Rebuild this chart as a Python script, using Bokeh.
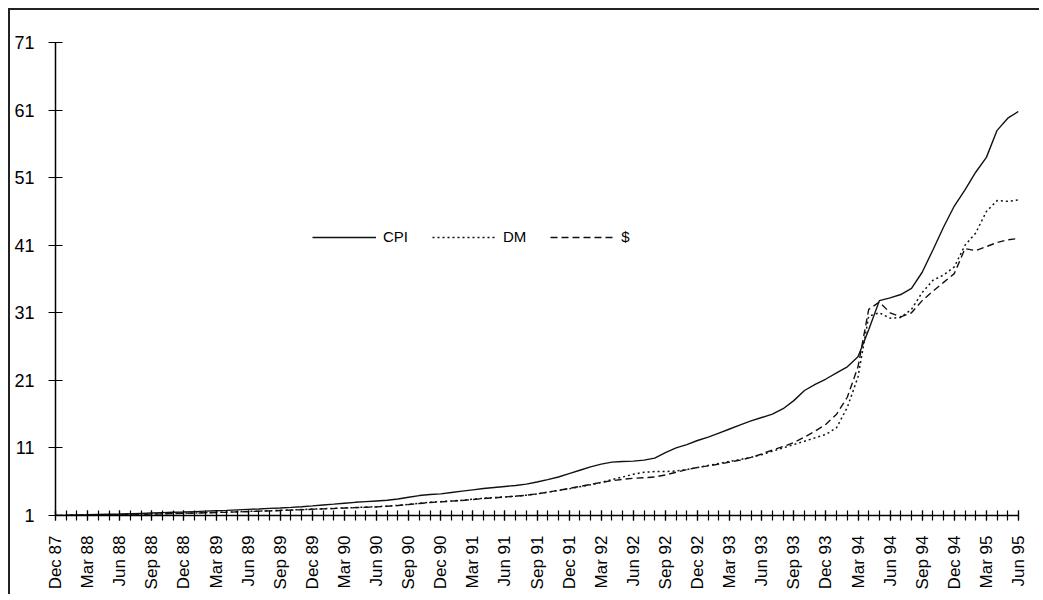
import math
from bokeh.plotting import figure
from bokeh.models import FixedTicker, Legend, LegendItem
from bokeh.embed import file_html
from bokeh.resources import INLINE

# ---------------- data (monthly, Dec 87 .. Jun 95) ----------------
tick_labels = ["Dec 87", "Mar 88", "Jun 88", "Sep 88", "Dec 88", "Mar 89", "Jun 89", "Sep 89",
               "Dec 89", "Mar 90", "Jun 90", "Sep 90", "Dec 90", "Mar 91", "Jun 91", "Sep 91",
               "Dec 91", "Mar 92", "Jun 92", "Sep 92", "Dec 92", "Mar 93", "Jun 93", "Sep 93",
               "Dec 93", "Mar 94", "Jun 94", "Sep 94", "Dec 94", "Mar 95", "Jun 95"]

cpi = [1.00, 1.03, 1.07, 1.10, 1.14, 1.18, 1.22, 1.27, 1.32, 1.37,
       1.42, 1.47, 1.52, 1.58, 1.64, 1.70, 1.76, 1.83, 1.90, 1.97,
       2.05, 2.12, 2.20, 2.30, 2.42, 2.55, 2.68, 2.82, 2.95, 3.05,
       3.15, 3.25, 3.45, 3.70, 3.95, 4.10, 4.20, 4.40, 4.60, 4.80,
       5.00, 5.15, 5.30, 5.45, 5.65, 5.95, 6.30, 6.70, 7.20, 7.70,
       8.20, 8.60, 8.90, 9.00, 9.05, 9.20, 9.50, 10.3, 11.0, 11.5,
       12.1, 12.6, 13.2, 13.8, 14.4, 15.0, 15.5, 16.0, 16.8, 18.0,
       19.5, 20.4, 21.2, 22.1, 23.0, 24.5, 28.5, 32.8, 33.2, 33.7,
       34.6, 37.0, 40.3, 43.7, 46.8, 49.2, 51.8, 54.0, 58.0, 59.8,
       60.8]

dm = [1.00, 1.02, 1.04, 1.06, 1.08, 1.10, 1.12, 1.15, 1.18, 1.22,
      1.26, 1.30, 1.34, 1.38, 1.42, 1.46, 1.50, 1.55, 1.60, 1.65,
      1.70, 1.76, 1.82, 1.88, 1.95, 2.00, 2.05, 2.12, 2.18, 2.24,
      2.30, 2.40, 2.50, 2.65, 2.80, 2.95, 3.05, 3.15, 3.25, 3.40,
      3.55, 3.65, 3.75, 3.85, 4.00, 4.20, 4.45, 4.70, 4.95, 5.25,
      5.55, 5.90, 6.30, 6.70, 7.10, 7.40, 7.50, 7.50, 7.60, 7.80,
      8.10, 8.40, 8.70, 9.00, 9.30, 9.60, 10.0, 10.5, 11.0, 11.5,
      12.0, 12.5, 13.0, 14.0, 17.0, 21.5, 30.5, 31.0, 30.2, 30.3,
      31.5, 34.0, 35.8, 36.6, 37.8, 41.0, 42.8, 46.0, 47.6, 47.5,
      47.7]

usd = [1.00, 1.02, 1.04, 1.05, 1.07, 1.09, 1.11, 1.14, 1.17, 1.20,
       1.24, 1.28, 1.32, 1.36, 1.40, 1.44, 1.48, 1.53, 1.58, 1.63,
       1.68, 1.74, 1.80, 1.86, 1.92, 1.98, 2.03, 2.10, 2.16, 2.22,
       2.28, 2.36, 2.48, 2.62, 2.78, 2.92, 3.02, 3.12, 3.22, 3.36,
       3.50, 3.62, 3.74, 3.86, 4.00, 4.20, 4.45, 4.72, 5.00, 5.30,
       5.60, 5.90, 6.15, 6.35, 6.50, 6.60, 6.70, 7.00, 7.40, 7.80,
       8.10, 8.35, 8.60, 8.90, 9.20, 9.60, 10.1, 10.7, 11.2, 11.8,
       12.6, 13.5, 14.5, 16.0, 18.5, 23.0, 31.5, 32.6, 31.0, 30.4,
       31.0, 32.8, 34.2, 35.5, 36.8, 40.5, 40.2, 40.8, 41.4, 41.8,
       42.0]

y_ticks = [1, 11, 21, 31, 41, 51, 61, 71]

months = list(range(len(cpi)))
label_pos = list(range(0, len(cpi), 3))

FONT = "Liberation Sans"

p = figure(width=1031, height=586, output_backend="svg", toolbar_location=None,
           x_range=(0, 90), y_range=(1, 71),
           min_border_left=45, min_border_right=23, min_border_top=32, min_border_bottom=81)
p.styles = {"margin-top": "8px", "margin-left": "8px",
            "border-top": "2px solid #222", "border-left": "2px solid #222"}
p.outline_line_color = None
p.grid.visible = False
p.background_fill_color = "white"
p.border_fill_color = "white"

r_cpi = p.line(months, cpi, line_color="#111111", line_width=1.4)
r_dm = p.line(months, dm, line_color="#111111", line_width=1.5, line_dash="2 3")
r_usd = p.line(months, usd, line_color="#111111", line_width=1.4, line_dash="7 4")

# x axis
xa = p.xaxis[0]
xa.ticker = FixedTicker(ticks=label_pos, minor_ticks=months)
xa.major_label_overrides = {pos: lab for pos, lab in zip(label_pos, tick_labels)}
xa.major_label_orientation = math.pi / 2
xa.major_label_text_font = FONT
xa.major_label_text_font_size = "17px"
xa.major_label_text_color = "black"
xa.major_label_standoff = 15
xa.axis_line_color = "black"
xa.axis_line_width = 1.5
xa.major_tick_in = 5
xa.major_tick_out = 5
xa.minor_tick_in = 5
xa.minor_tick_out = 5
xa.major_tick_line_color = "black"
xa.minor_tick_line_color = "black"
xa.major_tick_line_width = 1.2
xa.minor_tick_line_width = 1.2

# y axis
ya = p.yaxis[0]
ya.ticker = FixedTicker(ticks=y_ticks, minor_ticks=[])
ya.major_label_text_font = FONT
ya.major_label_text_font_size = "18px"
ya.major_label_text_color = "black"
ya.major_label_standoff = 14
ya.axis_line_color = "black"
ya.axis_line_width = 1.5
ya.major_tick_in = 7
ya.major_tick_out = 7
ya.major_tick_line_color = "black"
ya.major_tick_line_width = 1.2

legend = Legend(items=[LegendItem(label="CPI", renderers=[r_cpi]),
                       LegendItem(label="DM", renderers=[r_dm]),
                       LegendItem(label="$", renderers=[r_usd])],
                orientation="horizontal", location=(257, 270),
                glyph_width=64, glyph_height=16, label_height=16,
                label_standoff=7, spacing=24, padding=0, margin=0,
                border_line_color=None, background_fill_alpha=0,
                label_text_font=FONT, label_text_font_size="15px",
                label_text_color="black")
p.add_layout(legend, "center")

open("out.html", "w").write(file_html(p, INLINE))
